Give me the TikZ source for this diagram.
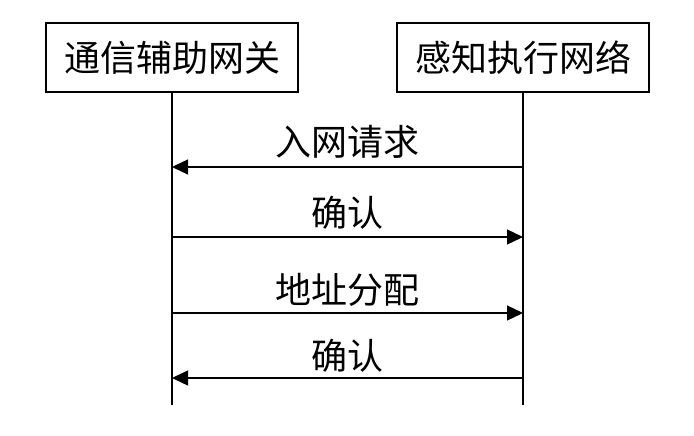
\documentclass[tikz,border=0pt]{standalone}
\usepackage{fontspec}
\newfontfamily\cjk{Noto Sans CJK SC}
\usetikzlibrary{arrows.meta}
\begin{document}
\begin{tikzpicture}[x=1pt,y=-1pt,
  actor/.style={draw,line width=1.3pt,minimum width=252pt,minimum height=69pt,inner sep=0pt,font=\cjk\fontsize{36}{42}\selectfont},
  life/.style={line width=1.3pt},
  msg/.style={line width=1.3pt,-{Triangle[length=16pt,width=15pt]}},
  lbl/.style={font=\cjk\fontsize{36}{42}\selectfont,inner sep=0pt}]
\useasboundingbox (0,0) rectangle (694,436);
\fill[white] (0,0) rectangle (694,436);
\node[actor] (g) at (172,57.5) {通信辅助网关};
\node[actor] (s) at (523,57.5) {感知执行网络};
\coordinate (gb) at (172,405);
\coordinate (sb) at (523,405);
\draw[life] (g.south) -- (gb);
\draw[life] (s.south) -- (sb);
\coordinate (s1) at (523,167); \coordinate (g1) at (172,167);
\coordinate (g2) at (172,237); \coordinate (s2) at (523,237);
\coordinate (g3) at (172,313); \coordinate (s3) at (523,313);
\coordinate (s4) at (523,378); \coordinate (g4) at (172,378);
\draw[msg] (s1) -- (g1);
\draw[msg] (g2) -- (s2);
\draw[msg] (g3) -- (s3);
\draw[msg] (s4) -- (g4);
\node[lbl] (l1) at (347,142) {入网请求};
\node[lbl] (l2) at (347,213) {确认};
\node[lbl] (l3) at (347,290) {地址分配};
\node[lbl] (l4) at (347,356) {确认};
\end{tikzpicture}
\end{document}
